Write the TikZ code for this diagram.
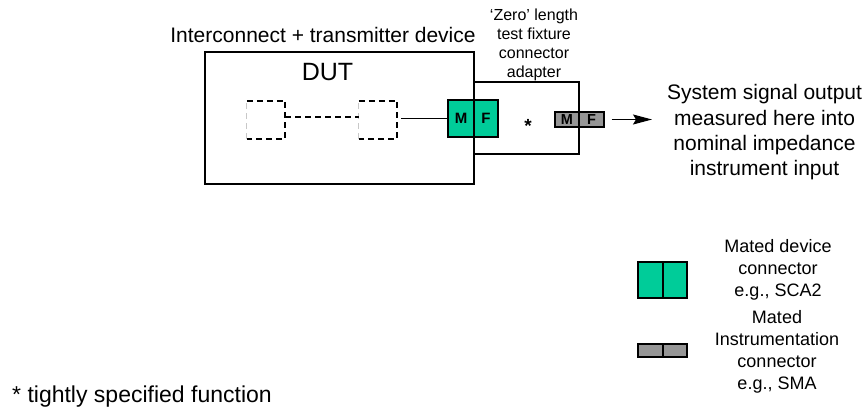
\documentclass[tikz,border=0pt]{standalone}
\usepackage{fontspec}
\setmainfont{Liberation Sans}
\usetikzlibrary{arrows.meta}
\definecolor{conngreen}{RGB}{0,204,153}
\definecolor{conngray}{RGB}{150,150,150}
\definecolor{faintgray}{RGB}{200,200,200}
\begin{document}
\begin{tikzpicture}[x=1pt,y=-1pt,
  box/.style={draw, line width=1.2pt, inner sep=0pt},
  ghost/.style={inner sep=0pt, minimum width=38pt, minimum height=38pt},
  dashline/.style={line width=1.7pt, dash pattern=on 6pt off 4pt},
  faintline/.style={line width=1pt, faintgray, dash pattern=on 6pt off 4pt},
  greenhalf/.style={box, fill=conngreen, minimum height=37pt, font=\fontsize{15}{15}\selectfont\bfseries},
  grayhalf/.style={box, fill=conngray, minimum height=15pt, font=\fontsize{14.5}{14.5}\selectfont\bfseries},
  legendgreen/.style={box, fill=conngreen, minimum height=36pt},
  legendgray/.style={box, fill=conngray, minimum height=13pt},
  wire/.style={line width=1.2pt}
]
\useasboundingbox (0,0) rectangle (867,411);

% main boxes
\node[box, minimum width=269pt, minimum height=132pt] (dut) at (339.5,118) {};
\node[box, minimum width=105pt, minimum height=72pt] (adapter) at (526.5,118) {};

% labels
\node[anchor=base, inner sep=0pt, font=\fontsize{21}{21}\selectfont] (title) at (323,43) {Interconnect + transmitter device};
\node[inner sep=0pt, font=\fontsize{25}{25}\selectfont] (dutlabel) at (327.5,72.5) {DUT};
\node[align=center, inner sep=0pt, font=\fontsize{16}{19}\selectfont] (adlabel) at (534,44.5) {`Zero' length\\test fixture\\connector\\adapter};
\node[anchor=base, inner sep=0pt, font=\fontsize{19}{19}\selectfont\bfseries] (star) at (528,133) {*};

% dashed internal blocks
\node[ghost] (d1) at (266,120) {};
\node[ghost] (d2) at (378,120) {};
\draw[dashline] (d1.north west) -- (d1.north east) -- (d1.south east) -- (d1.south west);
\draw[faintline] (d1.south west) -- (d1.north west);
\draw[dashline] (d2.north west) -- (d2.north east) -- (d2.south east) -- (d2.south west);
\draw[faintline] (d2.south west) -- (d2.north west);
\draw[dashline] ([yshift=3pt]d1.east) -- ([yshift=3pt]d2.west);

% device connector
\node[greenhalf, minimum width=26pt] (gM) at (461,118.5) {M};
\node[greenhalf, minimum width=24pt] (gF) at (486,118.5) {F};
\draw[wire, shorten <=4pt] (gM.west -| d2.east) -- (gM.west);

% instrumentation connector
\node[grayhalf, minimum width=24pt] (iM) at (567,119.5) {M};
\node[grayhalf, minimum width=25pt] (iF) at (591.5,119.5) {F};
\coordinate (arrend) at (652,120);
\draw[wire, shorten <=7pt, -{Stealth[length=19pt,width=10pt,inset=3pt]}] (iF.east) -- (iF.east -| arrend);

\node[align=center, inner sep=0pt, font=\fontsize{21}{25.3}\selectfont] (sys) at (764.5,132.5) {System signal output\\measured here into\\nominal impedance\\instrument input};

% legend
\node[legendgreen, minimum width=25pt] (lgM) at (650.5,280) {};
\node[legendgreen, minimum width=24pt] (lgF) at (675,280) {};
\node[legendgray, minimum width=25pt] (liM) at (650.5,350.5) {};
\node[legendgray, minimum width=24pt] (liF) at (675,350.5) {};
\node[align=center, inner sep=0pt, font=\fontsize{18}{22}\selectfont] (lg1) at (778,269.5) {Mated device\\connector\\e.g., SCA2};
\node[align=center, inner sep=0pt, font=\fontsize{18}{22}\selectfont] (lg2) at (777,352) {Mated\\Instrumentation\\connector\\e.g., SMA};

% footnote
\node[anchor=base west, inner sep=0pt, font=\fontsize{23}{23}\selectfont] (foot) at (12,402) {* tightly specified function};
\end{tikzpicture}
\end{document}
